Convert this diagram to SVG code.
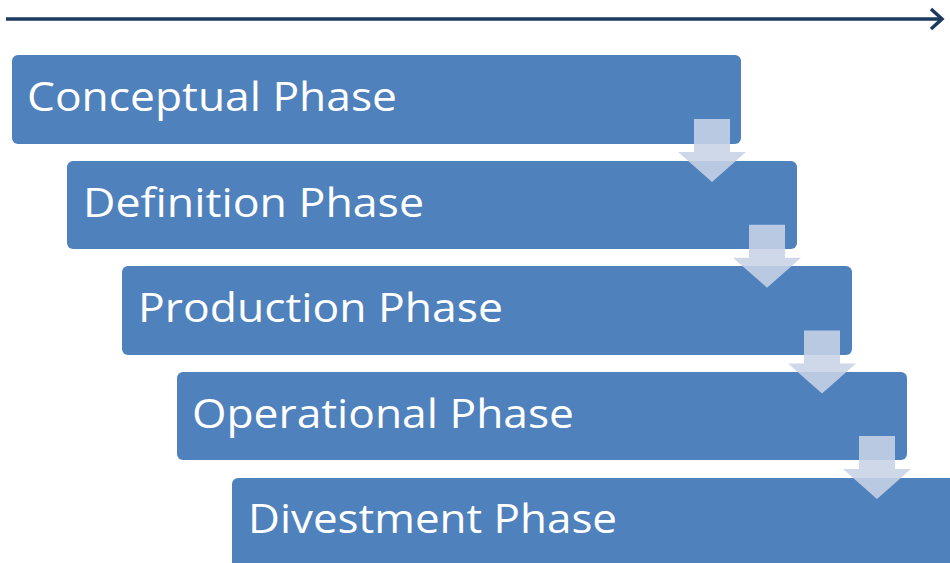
<svg xmlns="http://www.w3.org/2000/svg" width="950" height="563" viewBox="0 0 950 563">
<style>
.box{fill:#4F81BD}
.lbl{fill:#FFFFFF;font-family:"Open Sans","Liberation Sans",sans-serif;font-size:40px}
.dn{fill:#C8D3E6;fill-opacity:0.88}
</style>
<rect width="950" height="563" fill="#FFFFFF"/>
<g id="timeline">
<line x1="6" y1="19" x2="941" y2="19" stroke="#1B3A5F" stroke-width="3.5"/>
<polyline points="931,9 942,19 931,29" fill="none" stroke="#1B3A5F" stroke-width="3.5"/>
</g>
<g id="conceptual"><rect class="box" x="12" y="55" width="729" height="89" rx="6"/><text class="lbl" x="27" y="111" textLength="370" lengthAdjust="spacingAndGlyphs">Conceptual Phase</text></g>
<g id="definition"><rect class="box" x="67" y="161" width="730" height="88" rx="6"/><text class="lbl" x="83" y="216.5" textLength="341" lengthAdjust="spacingAndGlyphs">Definition Phase</text></g>
<g id="production"><rect class="box" x="122" y="266" width="730" height="89" rx="6"/><text class="lbl" x="138" y="322" textLength="365" lengthAdjust="spacingAndGlyphs">Production Phase</text></g>
<g id="operational"><rect class="box" x="177" y="372" width="730" height="88" rx="6"/><text class="lbl" x="192" y="427.5" textLength="382" lengthAdjust="spacingAndGlyphs">Operational Phase</text></g>
<g id="divestment"><rect class="box" x="232" y="478" width="730" height="100" rx="6"/><text class="lbl" x="248" y="533" textLength="369" lengthAdjust="spacingAndGlyphs">Divestment Phase</text></g>
<g id="connectors">
<polygon class="dn" points="694,119 730,119 730,152 746,152 712,182 678,152 694,152"/>
<polygon class="dn" transform="translate(55,105.7)" points="694,119 730,119 730,152 746,152 712,182 678,152 694,152"/>
<polygon class="dn" transform="translate(110,211.4)" points="694,119 730,119 730,152 746,152 712,182 678,152 694,152"/>
<polygon class="dn" transform="translate(165,317)" points="694,119 730,119 730,152 746,152 712,182 678,152 694,152"/>
</g>
</svg>
